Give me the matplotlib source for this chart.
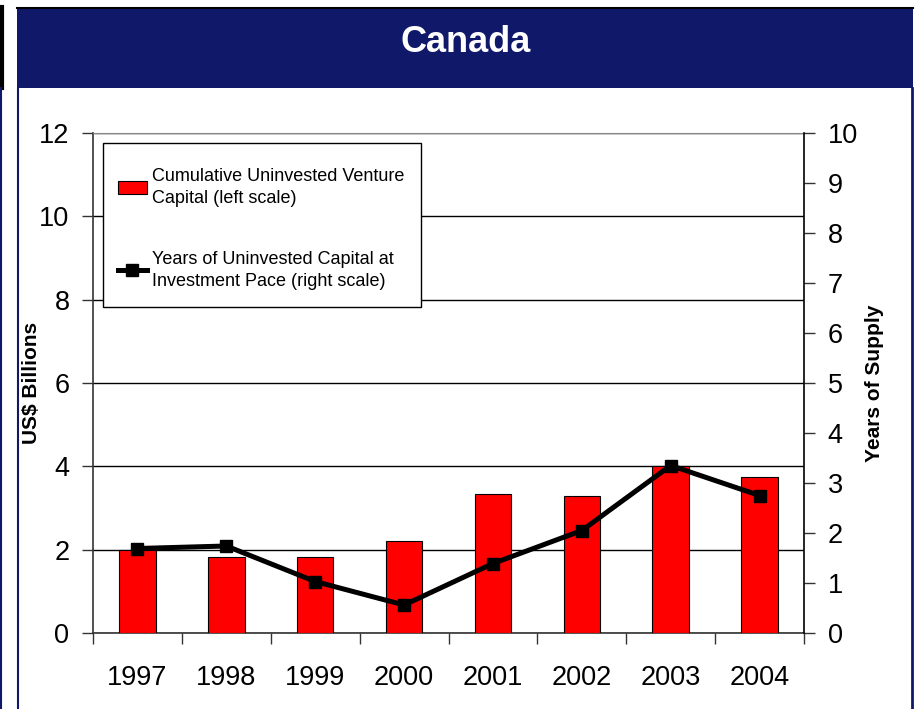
import matplotlib
import matplotlib.pyplot as plt
import numpy as np
from matplotlib.lines import Line2D
from matplotlib.patches import Rectangle

matplotlib.rcParams["font.family"] = ["Liberation Sans", "DejaVu Sans"]

years = ["1997", "1998", "1999", "2000", "2001", "2002", "2003", "2004"]
uninvested_bn = [2.0, 1.83, 1.82, 2.22, 3.33, 3.30, 4.0, 3.74]
years_supply = [1.69, 1.74, 1.03, 0.56, 1.39, 2.05, 3.35, 2.75]

NAVY = "#10186a"


def draw_plot():
    fig = plt.figure(figsize=(9.15, 7.09), dpi=100)
    W, H = 915.0, 709.0

    # header banner and panel frame
    fig.patches.append(Rectangle((17 / W, 1 - 88 / H), 896 / W, 81 / H,
                                 transform=fig.transFigure, facecolor=NAVY,
                                 edgecolor="none", zorder=0))
    fig.lines.append(Line2D([17 / W, 913 / W], [1 - 7.5 / H, 1 - 7.5 / H],
                            transform=fig.transFigure, color="black", lw=1.5))
    fig.lines.append(Line2D([1.5 / W, 1.5 / W], [1 - 7 / H, 1 - 88 / H],
                            transform=fig.transFigure, color="black", lw=3))
    fig.lines.append(Line2D([1 / W, 1 / W], [1 - 88 / H, 0],
                            transform=fig.transFigure, color=NAVY, lw=1.5))
    fig.lines.append(Line2D([17.5 / W, 17.5 / W], [1 - 88 / H, 0],
                            transform=fig.transFigure, color=NAVY, lw=1.5))
    fig.lines.append(Line2D([912 / W, 912 / W], [1 - 88 / H, 0],
                            transform=fig.transFigure, color=NAVY, lw=2))
    fig.text(466 / W, 1 - 43 / H, "Canada", color="white", fontsize=26,
             fontweight="bold", ha="center", va="center")

    ax = fig.add_axes([93 / W, 1 - 633 / H, 711 / W, 500 / H])
    x = np.arange(len(years))
    bars = ax.bar(x, uninvested_bn, width=0.41, color="#ff0000",
                  edgecolor="black", linewidth=0.8, zorder=3,
                  label="Cumulative Uninvested Venture\nCapital (left scale)")
    ax.set_xlim(-0.5, len(years) - 0.5)
    ax.set_ylim(0, 12)
    ax.set_yticks(range(0, 13, 2))
    ax.set_xticks(np.arange(-0.5, len(years), 1.0))
    ax.set_xticks(x, minor=True)
    ax.set_xticklabels([])
    ax.set_xticklabels(years, minor=True)
    ax.tick_params(axis="x", which="major", direction="out", length=8,
                   width=1, color="#333333")
    ax.tick_params(axis="x", which="minor", length=0, pad=23, labelsize=19.5)
    ax.tick_params(axis="y", direction="out", length=8, width=1,
                   color="#333333", pad=9, labelsize=19.5)
    ax.yaxis.grid(True, color="black", linewidth=1, zorder=0)
    ax.set_axisbelow(True)
    for side in ["left", "bottom"]:
        ax.spines[side].set_color("#333333")
        ax.spines[side].set_linewidth(1.2)
    ax.spines["top"].set_color("#888888")
    ax.spines["right"].set_visible(False)
    ax.set_ylabel("US$ Billions", fontsize=15, fontweight="bold")
    ax.yaxis.set_label_coords(-0.073, 0.5)

    ax2 = ax.twinx()
    line, = ax2.plot(x, years_supply, color="black", linewidth=3.6,
                     marker="s", markersize=8, zorder=4,
                     label="Years of Uninvested Capital at\nInvestment Pace (right scale)")
    ax2.set_ylim(0, 10)
    ax2.set_yticks(range(0, 11))
    ax2.tick_params(axis="y", direction="out", length=8, width=1,
                    color="#333333", pad=9, labelsize=19.5)
    ax2.spines["right"].set_color("black")
    ax2.spines["right"].set_linewidth(1.2)
    for side in ["left", "top", "bottom"]:
        ax2.spines[side].set_visible(False)
    ax2.set_ylabel("Years of Supply", fontsize=15, fontweight="bold",
                   labelpad=5)

    leg = ax2.legend([bars, line], [bars.get_label(), line.get_label()],
                     loc="upper left", bbox_to_anchor=(0.035, 0.93),
                     fontsize=13, frameon=False, labelspacing=2.4,
                     borderpad=0, handlelength=1.6, handleheight=0.75,
                     handletextpad=0.3, borderaxespad=0)
    leg.set_zorder(6)
    for t in leg.get_texts():
        t.set_linespacing(1.4)

    # legend frame with the uneven padding of the original
    fig.canvas.draw()
    bb = leg.get_window_extent().transformed(ax2.transAxes.inverted())
    px, py = 1 / 711.0, 1 / 500.0
    x0, x1 = bb.x0 - 15 * px, bb.x1 + 16 * px
    y0, y1 = bb.y0 - 17 * py, bb.y1 + 25 * py
    ax2.add_patch(Rectangle((x0, y0), x1 - x0, y1 - y0,
                            transform=ax2.transAxes, facecolor="white",
                            edgecolor="black", linewidth=1, zorder=5,
                            clip_on=False))

    fig.savefig("out.png", dpi=100)


if __name__ == "__main__":
    draw_plot()
